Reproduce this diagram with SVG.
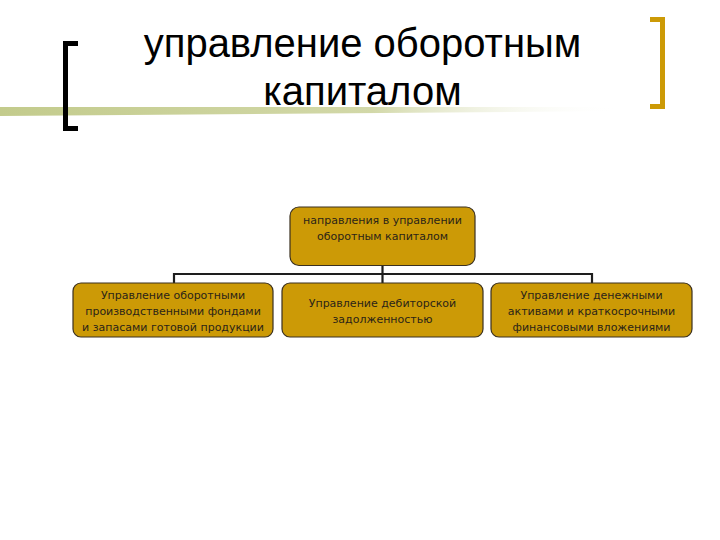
<svg xmlns="http://www.w3.org/2000/svg" width="720" height="540" viewBox="0 0 720 540">
<defs>
<linearGradient id="band" x1="0" y1="0" x2="1" y2="0">
<stop offset="0" stop-color="#c3cb8c"/>
<stop offset="0.6" stop-color="#d2d8a8"/>
<stop offset="1" stop-color="#ffffff" stop-opacity="0"/>
</linearGradient>
<style>
.title{font-family:"Liberation Sans",Arial,sans-serif;font-size:40px;fill:#000;text-anchor:middle}
.box{fill:#cc9a06;stroke:#3a3020;stroke-width:1.2}
.lbl{font-family:"DejaVu Sans",Verdana,sans-serif;font-size:11px;fill:#2b2418;text-anchor:middle}
.conn{fill:none;stroke:#1e1e1e;stroke-width:2.2}
</style>
</defs>
<rect width="720" height="540" fill="#fff"/>
<polygon points="0,107 620,107 620,111 0,116" fill="url(#band)"/>
<g id="bracket-left" fill="#000">
<rect x="63" y="41" width="5" height="90"/>
<rect x="63" y="41" width="15" height="5"/>
<rect x="63" y="126" width="15" height="5"/>
</g>
<g id="bracket-right" fill="#cc9a06">
<rect x="660" y="17" width="5" height="92"/>
<rect x="650" y="17" width="15" height="5"/>
<rect x="650" y="104" width="15" height="5"/>
</g>
<g id="title">
<text class="title" x="362.5" y="57">управление оборотным</text>
<text class="title" x="362.5" y="105">капиталом</text>
</g>
<g id="connectors">
<path class="conn" d="M382.5,265.5 V274 M174,283 V274 H592 V283 M382.5,274 V283"/>
</g>
<g id="node-root">
<rect class="box" x="290" y="207" width="185" height="58.5" rx="9"/>
<text class="lbl" x="382.5" y="224">направления в управлении</text>
<text class="lbl" x="382.5" y="240">оборотным капиталом</text>
</g>
<g id="node-left">
<rect class="box" x="73" y="283" width="200" height="54" rx="8"/>
<text class="lbl" x="173" y="299">Управление оборотными</text>
<text class="lbl" x="173" y="315">производственными фондами</text>
<text class="lbl" x="173" y="331">и запасами готовой продукции</text>
</g>
<g id="node-middle">
<rect class="box" x="282" y="283" width="201" height="54" rx="8"/>
<text class="lbl" x="382.5" y="307">Управление дебиторской</text>
<text class="lbl" x="382.5" y="323">задолженностью</text>
</g>
<g id="node-right">
<rect class="box" x="491" y="283" width="201" height="54" rx="8"/>
<text class="lbl" x="591.5" y="299">Управление денежными</text>
<text class="lbl" x="591.5" y="315">активами и краткосрочными</text>
<text class="lbl" x="591.5" y="331">финансовыми вложениями</text>
</g>
</svg>
